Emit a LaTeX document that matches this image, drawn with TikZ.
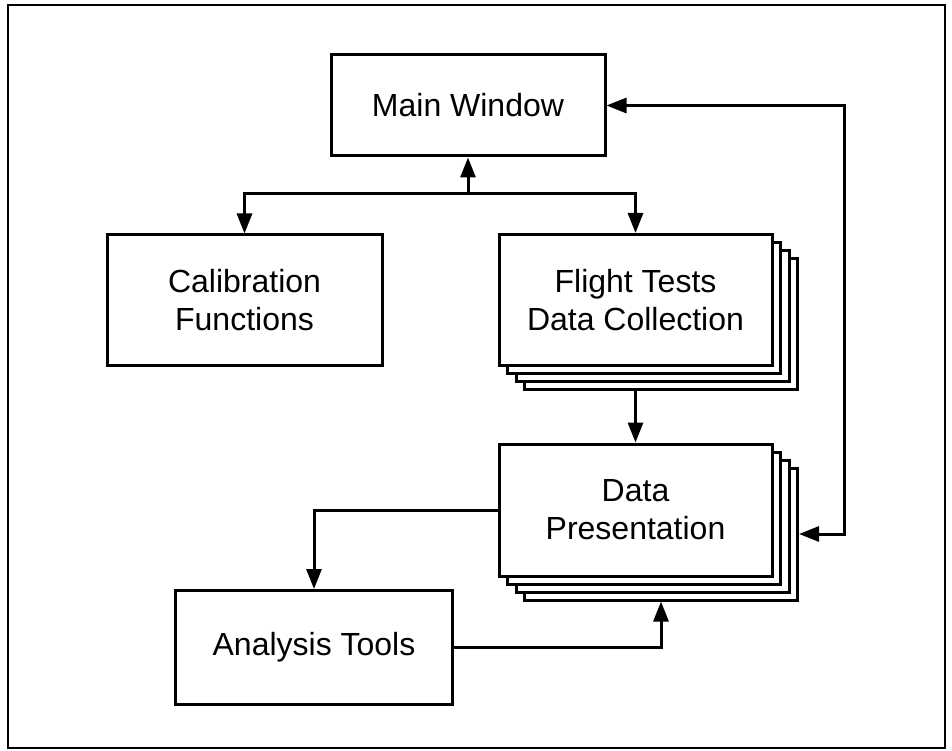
\documentclass[tikz,border=0pt]{standalone}
\usepackage{fontspec}
\setmainfont{Liberation Sans}
\usetikzlibrary{arrows.meta}

\begin{document}
\begin{tikzpicture}[x=1pt,y=-1pt,
  line width=3pt,
  box/.style={draw=black, fill=white, rectangle, inner sep=0pt, align=center,
    font=\fontsize{32}{38}\selectfont},
  sheet/.style={draw=black, fill=white, rectangle, inner sep=0pt},
  conn/.style={draw=black, -{Triangle[length=20pt,width=15pt]}},
  twoway/.style={draw=black, {Triangle[length=20pt,width=15pt]}-{Triangle[length=20pt,width=15pt]}}
]
\useasboundingbox (0,0) rectangle (952,751);

% outer frame
\draw[line width=2.6pt] (8,5) rectangle (945,748);

% top-level window
\node[box, minimum width=274pt, minimum height=101pt] (main) at (468,105.5) {Main Window};

% calibration block
\node[box, minimum width=275pt, minimum height=130pt] (cal) at (244.5,300) {Calibration\\Functions};

% stacked sheets behind the flight-test block
\node[sheet, minimum width=273pt, minimum height=131pt] (fl3) at (661,324) {};
\node[sheet, minimum width=273pt, minimum height=131pt] (fl2) at (652.5,316) {};
\node[sheet, minimum width=273pt, minimum height=131pt] (fl1) at (644,308) {};
\node[box, minimum width=273pt, minimum height=131pt] (fl) at (635.5,300) {Flight Tests\\Data Collection};

% stacked sheets behind the presentation block
\node[sheet, minimum width=273pt, minimum height=132pt] (dp3) at (661,534) {};
\node[sheet, minimum width=273pt, minimum height=132pt] (dp2) at (652.5,526) {};
\node[sheet, minimum width=273pt, minimum height=132pt] (dp1) at (644,518) {};
\node[box, minimum width=273pt, minimum height=132pt] (dp) at (635.5,510) {Data\\Presentation};

% analysis block
\node[box, minimum width=277pt, minimum height=114pt] (an) at (314,647.5) {Analysis Tools};

% connectors
\coordinate (split) at (468,194);
\coordinate (loop) at (844,300);

\draw[conn] (split) -- (main.south);
\draw[conn] (split) -| (cal.north);
\draw[conn] (split) -| (fl.north);
\draw[conn] (fl.south |- fl3.south) -- (dp.north);
\draw[twoway] (main.east) -- (main.east -| loop) |- (dp3.east);
\draw[conn] (dp.west) -| (an.north);
\draw[conn] (an.east) -| (dp3.south);
\end{tikzpicture}
\end{document}
